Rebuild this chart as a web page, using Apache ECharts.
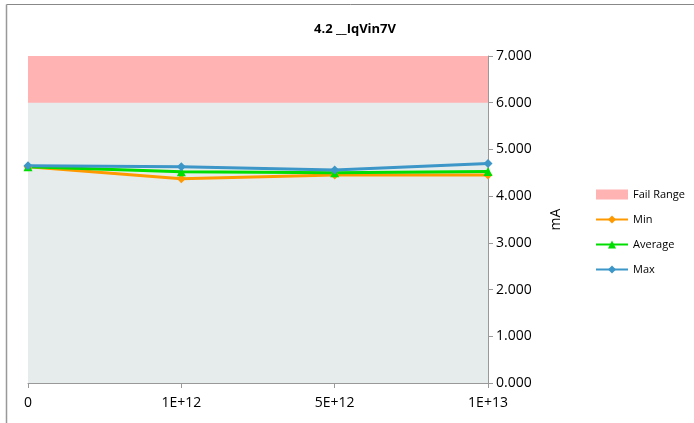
<!DOCTYPE html>
<html><head><meta charset="utf-8">
<script src="https://cdn.jsdelivr.net/npm/echarts@6/dist/echarts.min.js"></script>
<style>html,body{margin:0;padding:0;background:#fff}#c{width:694px;height:423px}</style>
</head><body><div id="c"></div>
<script>
var categories = ['0', '1E+12', '5E+12', '1E+13'];
var minVals = [4.63, 4.37, 4.45, 4.45];
var avgVals = [4.63, 4.52, 4.50, 4.53];
var maxVals = [4.65, 4.63, 4.56, 4.70];
var failLow = 6, failHigh = 7;
var failBase = categories.map(function(){ return failLow; });
var failBand = categories.map(function(){ return failHigh - failLow; });

var chart = echarts.init(document.getElementById('c'));
var font = 'Open Sans, Liberation Sans, sans-serif';
chart.setOption({
  animation: false,
  textStyle: {fontFamily: font},
  title: {text: '4.2 __IqVin7V', left: 350, top: 18, textAlign: 'center',
    textStyle: {fontSize: 13, fontWeight: 'bold', color: '#000', fontFamily: font}},
  graphic: [
    {type: 'line', shape: {x1: 6.5, y1: 4.5, x2: 694, y2: 4.5}, style: {stroke: '#888', lineWidth: 1}},
    {type: 'line', shape: {x1: 6.5, y1: 4.5, x2: 6.5, y2: 423}, style: {stroke: '#999', lineWidth: 1.5}}
  ],
  legend: {
    orient: 'vertical', left: 590, top: 184, itemGap: 14, itemWidth: 32, itemHeight: 10,
    textStyle: {fontSize: 11, color: '#000', fontFamily: font},
    data: [
      {name: 'Fail Range', icon: 'rect', itemStyle: {color: '#FFB3B3'}},
      {name: 'Min'}, {name: 'Average'}, {name: 'Max'}
    ]
  },
  grid: {left: 28, right: 206, top: 56, bottom: 40, show: true, backgroundColor: '#E6ECEC', borderWidth: 0},
  xAxis: {
    type: 'category', boundaryGap: false, data: categories,
    axisLine: {lineStyle: {color: '#999'}},
    axisTick: {show: true, alignWithLabel: true, length: 5, lineStyle: {color: '#999'}},
    axisLabel: {fontSize: 14, color: '#000', margin: 13, fontFamily: font},
    splitLine: {show: false}
  },
  yAxis: {
    type: 'value', position: 'right', min: 0, max: 7, interval: 1,
    name: 'mA', nameLocation: 'middle', nameGap: 61, nameRotate: 90,
    nameTextStyle: {fontSize: 14, color: '#000', fontFamily: font},
    axisLine: {show: true, lineStyle: {color: '#999'}},
    axisTick: {show: true, length: 5, lineStyle: {color: '#999'}},
    axisLabel: {fontSize: 14, color: '#000', margin: 8, fontFamily: font,
      formatter: function(v){ return v.toFixed(3); }},
    splitLine: {show: false}
  },
  series: [
    {name: 'failBase', type: 'line', stack: 'fail', data: failBase, symbol: 'none',
      lineStyle: {width: 0, opacity: 0}, silent: true, legendHoverLink: false},
    {name: 'Fail Range', type: 'line', stack: 'fail', data: failBand, symbol: 'none',
      itemStyle: {color: '#FFB3B3'},
      lineStyle: {width: 0, opacity: 0}, areaStyle: {color: '#FFB3B3', opacity: 1}},
    {name: 'Min', type: 'line', data: minVals, symbol: 'diamond', symbolSize: 9,
      itemStyle: {color: '#FF9900'}, lineStyle: {width: 3, color: '#FF9900'}},
    {name: 'Average', type: 'line', data: avgVals, symbol: 'triangle', symbolSize: 9,
      itemStyle: {color: '#00DD00'}, lineStyle: {width: 3, color: '#00DD00'}},
    {name: 'Max', type: 'line', data: maxVals, symbol: 'diamond', symbolSize: 9,
      itemStyle: {color: '#3C96C8'}, lineStyle: {width: 3, color: '#3C96C8'}}
  ]
});
</script></body></html>
